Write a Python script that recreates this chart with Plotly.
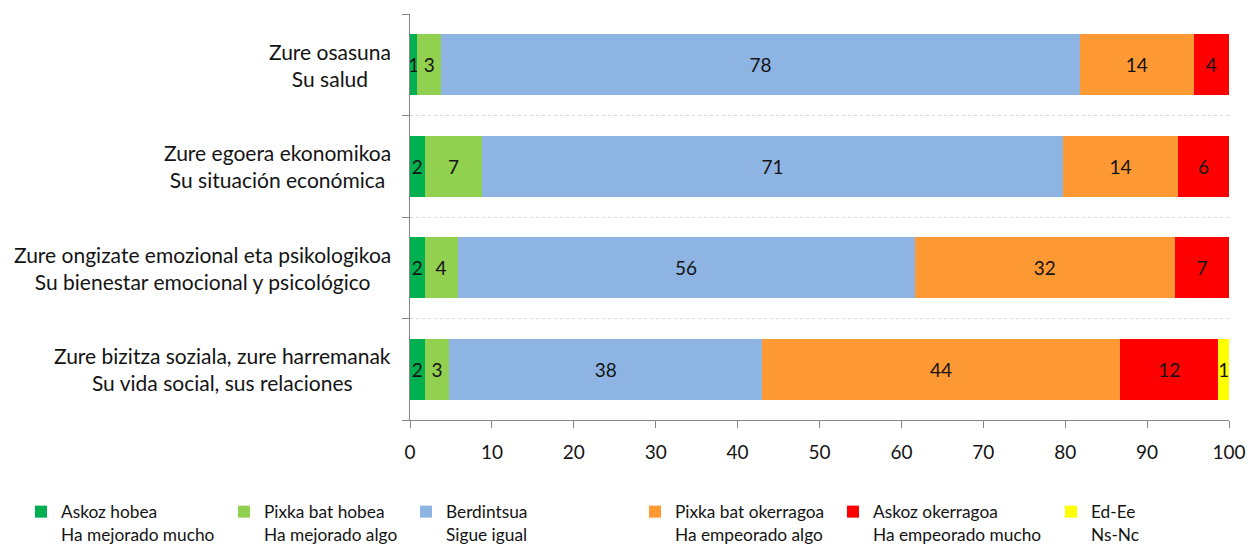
import plotly.graph_objects as go

categories = [
    "Zure osasuna<br>Su salud",
    "Zure egoera ekonomikoa<br>Su situación económica",
    "Zure ongizate emozional eta psikologikoa<br>Su bienestar emocional y psicológico",
    "Zure bizitza soziala, zure harremanak<br>Su vida social, sus relaciones",
]

series_names = [
    "Askoz hobea<br>Ha mejorado mucho",
    "Pixka bat hobea<br>Ha mejorado algo",
    "Berdintsua<br>Sigue igual",
    "Pixka bat okerragoa<br>Ha empeorado algo",
    "Askoz okerragoa<br>Ha empeorado mucho",
    "Ed-Ee<br>Ns-Nc",
]
askoz_hobea = [0.9, 1.8, 1.8, 1.8]
pixka_hobea = [2.9, 7.0, 4.0, 3.0]
berdintsua = [78.0, 70.9, 55.8, 38.2]
pixka_okerragoa = [13.9, 14.1, 31.8, 43.7]
askoz_okerragoa = [4.3, 6.2, 6.6, 12.0]
ed_ee = [0.0, 0.0, 0.0, 1.3]
colors = ["#00B050", "#92D050", "#8EB4E3", "#FF9933", "#FF0000", "#FFFF00"]
x_ticks = list(range(0, 101, 10))

series_values = [askoz_hobea, pixka_hobea, berdintsua, pixka_okerragoa, askoz_okerragoa, ed_ee]

PLOT_L, PLOT_W = 410, 819
legend_swatch_px = [38, 241, 423, 652, 850, 1068]
legend_x = [(p - 17 - PLOT_L) / PLOT_W for p in legend_swatch_px]

FONT = "Lato"
TXT = "#141414"

fig = go.Figure()
for k, (name, vals, col) in enumerate(zip(series_names, series_values, colors)):
    texts = [f"{v:.0f}" if v > 0 else "" for v in vals]
    fig.add_trace(go.Bar(
        y=list(range(len(categories))), x=vals, orientation="h", name=name,
        marker=dict(color=col, line=dict(width=0)),
        text=texts, textposition="inside", insidetextanchor="middle",
        textangle=0, constraintext="none",
        textfont=dict(family=FONT, size=19, color=TXT),
        hoverinfo="skip",
        legend="legend" if k == 0 else f"legend{k+1}",
    ))

for i, c in enumerate(categories):
    fig.add_annotation(
        x=-0.021, xref="paper", xanchor="right", y=i, yref="y",
        text=c, showarrow=False, align="center",
        font=dict(family=FONT, size=21, color=TXT),
    )

legend_common = dict(
    orientation="h", xanchor="left", y=-0.182, yanchor="top",
    font=dict(family=FONT, size=17.3, color=TXT), valign="top",
    itemclick=False, itemdoubleclick=False, bgcolor="rgba(0,0,0,0)",
)
legends = {}
for k, lx in enumerate(legend_x):
    key = "legend" if k == 0 else f"legend{k+1}"
    legends[key] = dict(legend_common, x=lx)

fig.update_layout(
    barmode="stack", bargap=0.4,
    width=1248, height=547,
    margin=dict(l=410, r=19, t=14, b=127, autoexpand=False),
    plot_bgcolor="white", paper_bgcolor="white",
    font=dict(family=FONT, size=17, color=TXT),
    xaxis=dict(
        range=[0, 100], tickvals=x_ticks, showgrid=False, zeroline=False,
        showline=True, linecolor="#868686", linewidth=1,
        ticks="outside", ticklen=7, tickcolor="#868686",
        ticklabelstandoff=8,
        tickfont=dict(family=FONT, size=19, color=TXT),
    ),
    yaxis=dict(
        range=[3.5, -0.5], tickvals=[-0.5, 0.5, 1.5, 2.5, 3.5], showticklabels=False,
        showgrid=True, gridcolor="#D9D9D9", griddash="dot", gridwidth=1,
        zeroline=False, showline=True, linecolor="#868686", linewidth=1,
        ticks="outside", ticklen=7, tickcolor="#868686",
    ),
    showlegend=True,
    **legends,
)

fig.write_html(
    "out.html",
    config={"displayModeBar": False},
    post_script="document.body.style.margin='0';document.documentElement.style.overflow='hidden';",
)
